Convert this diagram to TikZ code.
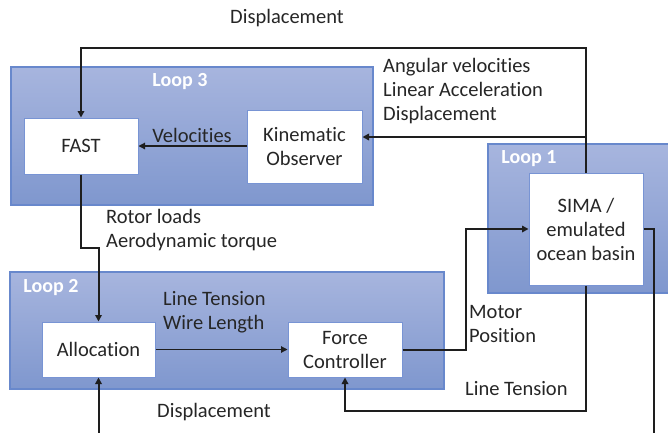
\documentclass[tikz,border=0pt]{standalone}
\usepackage{fontspec}
\setmainfont[Ligatures=NoCommon]{Carlito}
\usetikzlibrary{arrows.meta}
\definecolor{txt}{HTML}{262626}
\definecolor{looptop}{RGB}{167,181,222}
\definecolor{loopbot}{RGB}{127,151,206}
\definecolor{loopedge}{RGB}{104,136,204}
\definecolor{boxedge}{RGB}{120,148,212}
\definecolor{wire}{HTML}{1E1E1E}
\tikzset{
  loopbox/.style={draw=loopedge, line width=1.2pt, top color=looptop, bottom color=loopbot},
  looplabel/.style={text=white, font=\fontsize{20}{24}\selectfont\bfseries, inner sep=0pt},
  block/.style={draw=boxedge, line width=1pt, fill=white, text=txt, align=center,
    font=\fontsize{20.5}{24}\selectfont, inner sep=0pt},
  lbl/.style={text=txt, align=left, anchor=west, inner sep=0pt,
    font=\fontsize{20.5}{24}\selectfont},
  sig/.style={draw=wire, line width=2pt},
  thin/.style={draw=wire, line width=1.1pt},
  tip/.style={-{Triangle[length=6.5pt,width=6.5pt]}},
}
\begin{document}
\begin{tikzpicture}[x=1pt,y=-1pt]
\useasboundingbox (0,0) rectangle (668,432);
\fill[white] (0,0) rectangle (668,432);

% loop regions
\path[loopbox] (11,67) rectangle (373,205);
\path[loopbox] (488,144) rectangle (680,293);
\path[loopbox] (10,272) rectangle (444,389);
\node[looplabel] (l3) at (180,82) {Loop 3};
\node[looplabel] (l1) at (529,159) {Loop 1};
\node[looplabel] (l2) at (51,288) {Loop 2};

% blocks
\node[block, minimum width=114, minimum height=56] (fast) at (81,146) {FAST};
\node[block, minimum width=115, minimum height=73] (ko) at (304.5,146.5) {Kinematic\\Observer};
\node[block, minimum width=114, minimum height=112] (sima) at (586,229) {SIMA /\\emulated\\ocean basin};
\node[block, minimum width=113, minimum height=55] (alloc) at (98.5,349.5) {Allocation};
\node[block, minimum width=114, minimum height=55] (fc) at (345,349.5) {Force\\Controller};

% routing points
\coordinate (topleft) at (81,48);
\coordinate (tap) at (586,137);
\coordinate (rl) at (81,248);
\coordinate (dispin) at (98.5,440);
\coordinate (mp) at (466,229);
\coordinate (ltc) at (345,411);
\coordinate (out) at (654,440);

% connectors
\draw[sig, tip] (sima.north) |- (topleft) -- (fast.north);
\draw[sig, tip] (tap) -- (tap -| ko.east);
\draw[thin, tip] (ko.west |- fast.east) -- (fast.east);
\draw[sig, tip] (fast.south) -- (rl) -| (alloc.north);
\draw[thin, tip] (alloc.east) -- (fc.west);
\draw[sig, tip] (dispin) -- (alloc.south);
\draw[sig, tip] (fc.east) -| (mp) -- (sima.west);
\draw[sig, tip] (sima.south) |- (ltc) -- (fc.south);
\draw[sig] (sima.east) -| (out);

% signal labels
\node[lbl, anchor=center] (dtop) at (287,18) {Displacement};
\node[lbl, anchor=center] (vel) at (192,135) {Velocities};
\node[lbl] (imu) at (383,91) {Angular velocities\\Linear Acceleration\\Displacement};
\node[lbl] (rot) at (106,230) {Rotor loads\\Aerodynamic torque};
\node[lbl] (ltw) at (163,312) {Line Tension\\Wire Length};
\node[lbl] (dbot) at (157,412) {Displacement};
\node[lbl] (mot) at (469,324) {Motor\\Position};
\node[lbl] (ltb) at (465,389) {Line Tension};
\end{tikzpicture}
\end{document}
